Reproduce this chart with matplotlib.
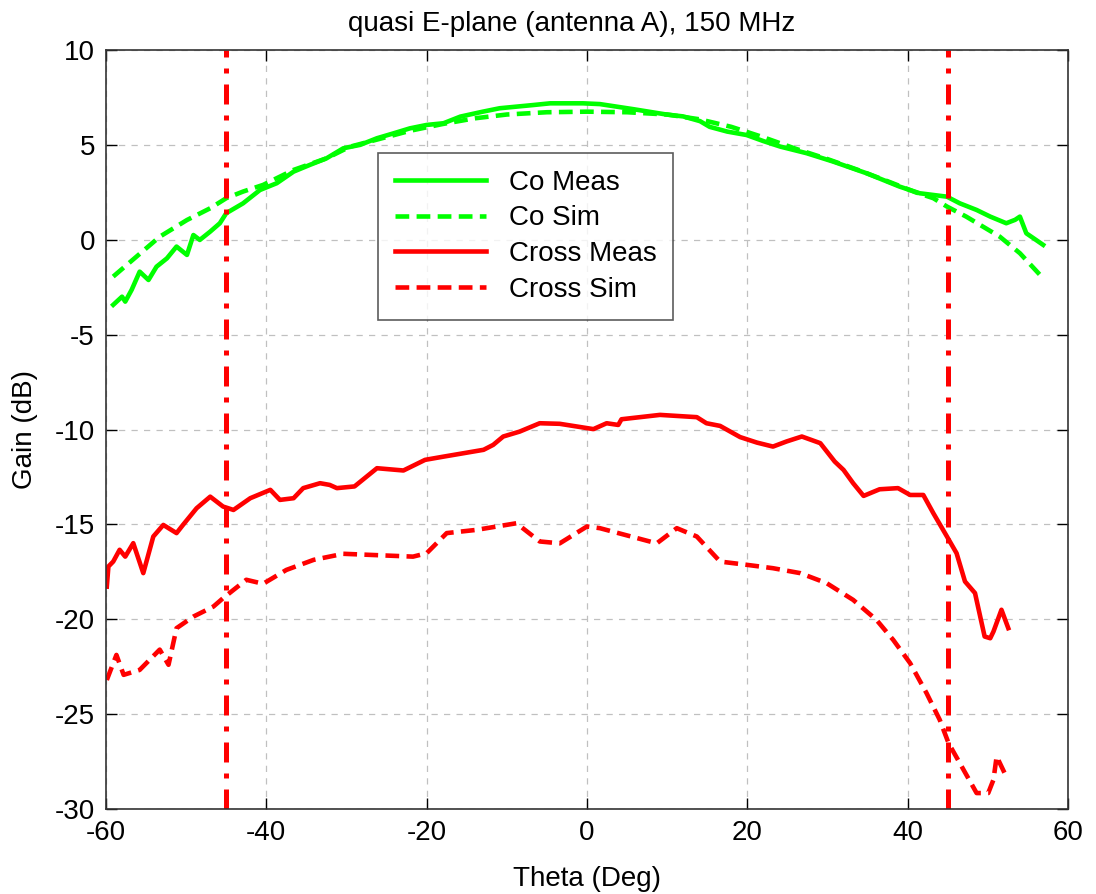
import matplotlib
matplotlib.use("Agg")
import matplotlib.pyplot as plt

plt.rcParams['font.family'] = ['Liberation Sans', 'DejaVu Sans']
plt.rcParams['axes.unicode_minus'] = False

co_meas_theta = [-59.1, -58.0, -57.6, -56.8, -55.8, -54.7, -53.7, -52.4, -51.2, -49.9, -49.1, -48.3,
                 -47.0, -45.8, -45.0, -42.9, -40.8, -38.7, -36.6, -34.6, -32.5, -30.4, -28.3, -26.2,
                 -24.2, -22.1, -20.0, -17.9, -15.8, -13.0, -10.9, -6.7, -4.6, -0.5, 1.6, 5.8, 9.9,
                 12.0, 14.1, 15.3, 17.5, 19.9, 22.0, 24.1, 27.4, 30.7, 34.9, 39.0, 41.5, 44.9, 46.5,
                 48.6, 50.3, 52.3, 53.4, 54.0, 54.8, 55.7, 56.9]
co_meas_gain = [-3.43, -3.0, -3.26, -2.64, -1.68, -2.12, -1.42, -0.98, -0.36, -0.8, 0.25, -0.01,
                0.43, 0.87, 1.4, 1.92, 2.62, 2.98, 3.59, 3.94, 4.29, 4.82, 5.0, 5.35,
                5.6, 5.87, 6.05, 6.14, 6.49, 6.75, 6.93, 7.1, 7.19, 7.19, 7.15, 6.88, 6.6,
                6.5, 6.25, 5.95, 5.7, 5.52, 5.2, 4.91, 4.56, 4.12, 3.5, 2.8, 2.45, 2.27, 1.92,
                1.57, 1.22, 0.87, 1.05, 1.22, 0.34, 0.08, -0.27]

co_sim_theta = [-59.1, -56.2, -53.3, -49.9, -47.0, -45.0, -42.9, -40.4, -36.6, -32.5, -29.6, -26.0,
                -22.0, -18.0, -14.0, -10.0, -5.0, 0.0, 5.0, 10.0, 14.0, 18.0, 22.0, 26.0, 30.0,
                34.0, 38.0, 41.0, 43.2, 44.9, 47.3, 51.5, 54.0, 56.7]
co_sim_gain = [-1.94, -0.89, 0.16, 1.04, 1.66, 2.19, 2.54, 2.89, 3.68, 4.29, 4.9, 5.3,
               5.75, 6.1, 6.4, 6.6, 6.72, 6.75, 6.72, 6.6, 6.35, 5.95, 5.4, 4.8, 4.25,
               3.65, 3.0, 2.5, 2.19, 1.75, 1.22, 0.16, -0.71, -1.94]

cross_meas_theta = [-59.9, -59.7, -59.1, -58.3, -57.6, -56.6, -55.35, -54.1, -52.85, -51.2, -50.4,
                    -48.7, -47.0, -45.4, -44.1, -42.0, -39.5, -38.3, -36.6, -35.4, -33.3, -32.1,
                    -31.2, -29.0, -26.2, -22.9, -20.2, -17.9, -12.9, -11.7, -10.45, -8.4, -5.9,
                    -3.4, 0.8, 2.45, 3.9, 4.3, 9.1, 13.7, 14.9, 16.6, 19.1, 21.2, 23.2, 24.9,
                    26.8, 29.1, 30.9, 32.0, 33.2, 34.5, 36.5, 38.8, 40.3, 41.95, 43.2, 44.9,
                    46.1, 47.15, 48.4, 49.6, 50.3, 50.7, 51.7, 52.55]
cross_meas_gain = [-18.28, -17.22, -16.96, -16.34, -16.7, -15.99, -17.57, -15.64, -15.03, -15.46, -15.03,
                   -14.15, -13.54, -14.06, -14.24, -13.62, -13.18, -13.71, -13.62, -13.09, -12.83, -12.92,
                   -13.09, -13.0, -12.04, -12.16, -11.6, -11.43, -11.07, -10.81, -10.37, -10.11, -9.67,
                   -9.7, -9.98, -9.67, -9.76, -9.46, -9.23, -9.35, -9.67, -9.81, -10.4, -10.69, -10.9, -10.63,
                   -10.37, -10.72, -11.69, -12.13, -12.83, -13.5, -13.15, -13.09, -13.45, -13.45, -14.41, -15.64,
                   -16.52, -18.01, -18.62, -20.91, -21.0, -20.65, -19.5, -20.47]

cross_sim_theta = [-59.9, -58.7, -57.8, -55.8, -53.3, -52.2, -51.2, -49.1, -46.6, -45.4, -42.5, -40.4,
                   -37.5, -34.1, -30.4, -21.7, -20.0, -17.5, -13.8, -8.8, -5.9, -3.4, 0.0, 1.6, 8.7,
                   11.2, 13.7, 16.6, 19.9, 23.2, 26.6, 29.9, 33.2, 36.1, 38.2, 40.3, 42.35, 44.0,
                   45.1, 46.5, 48.6, 50.05, 50.7, 51.1, 51.7, 52.3]
cross_sim_gain = [-23.2, -21.88, -22.93, -22.67, -21.6, -22.4, -20.47, -19.86, -19.33, -18.89, -17.92, -18.13,
                  -17.4, -16.87, -16.55, -16.7, -16.52, -15.46, -15.29, -14.94, -15.9, -16.0, -15.11, -15.2, -16.0,
                  -15.2, -15.64, -16.96, -17.13, -17.31, -17.57, -18.1, -18.98, -20.03, -21.09, -22.31, -23.89, -25.3,
                  -26.53, -27.58, -29.16, -29.16, -28.46, -27.23, -27.76, -28.29]

limit_lines = [-45, 45]
x_ticks = [-60, -40, -20, 0, 20, 40, 60]
y_ticks = [-30, -25, -20, -15, -10, -5, 0, 5, 10]

green = '#00ff00'
red = '#ff0000'
fs = 20

fig = plt.figure(figsize=(10.96, 8.94), dpi=100)
ax = fig.add_axes([106/1096, (894-809)/894, 962/1096, 759/894])

ax.grid(True, color='#c0c0c0', linestyle=(0, (5, 5)), linewidth=0.9)
ax.set_axisbelow(True)

lw = 3.3
ax.plot(co_meas_theta, co_meas_gain, color=green, lw=lw, label='Co Meas')
ax.plot(co_sim_theta, co_sim_gain, color=green, lw=lw, linestyle=(0, (3, 1.6)), label='Co Sim')
ax.plot(cross_meas_theta, cross_meas_gain, color=red, lw=lw, label='Cross Meas')
ax.plot(cross_sim_theta, cross_sim_gain, color=red, lw=lw, linestyle=(0, (3, 1.6)), label='Cross Sim')
for xv in limit_lines:
    ax.axvline(xv, color=red, lw=3.6, linestyle=(0, (4, 2.2, 1, 2.2)))

ax.set_xlim(-60, 60)
ax.set_ylim(-30, 10)
ax.set_xticks(x_ticks)
ax.set_yticks(y_ticks)
ax.tick_params(direction='in', length=8, width=1, top=True, right=True, labelsize=fs, pad=8)
for s in ax.spines.values():
    s.set_linewidth(1.2)
    s.set_color('#333333')

ax.set_title('quasi E-plane (antenna A), 150 MHz', fontsize=fs, pad=14, x=0.484)
ax.set_xlabel('Theta (Deg)', fontsize=fs, labelpad=14)
ax.set_ylabel('Gain (dB)', fontsize=fs, labelpad=12)

leg = ax.legend(loc='upper left', bbox_to_anchor=((378-106)/962, (809-153)/759),
                fontsize=fs, frameon=True, fancybox=False, edgecolor='#333333',
                handlelength=3.3, handletextpad=0.8, borderpad=0.6, labelspacing=0.35,
                borderaxespad=0)
leg.get_frame().set_linewidth(1.2)

fig.savefig('out.png', dpi=100)
